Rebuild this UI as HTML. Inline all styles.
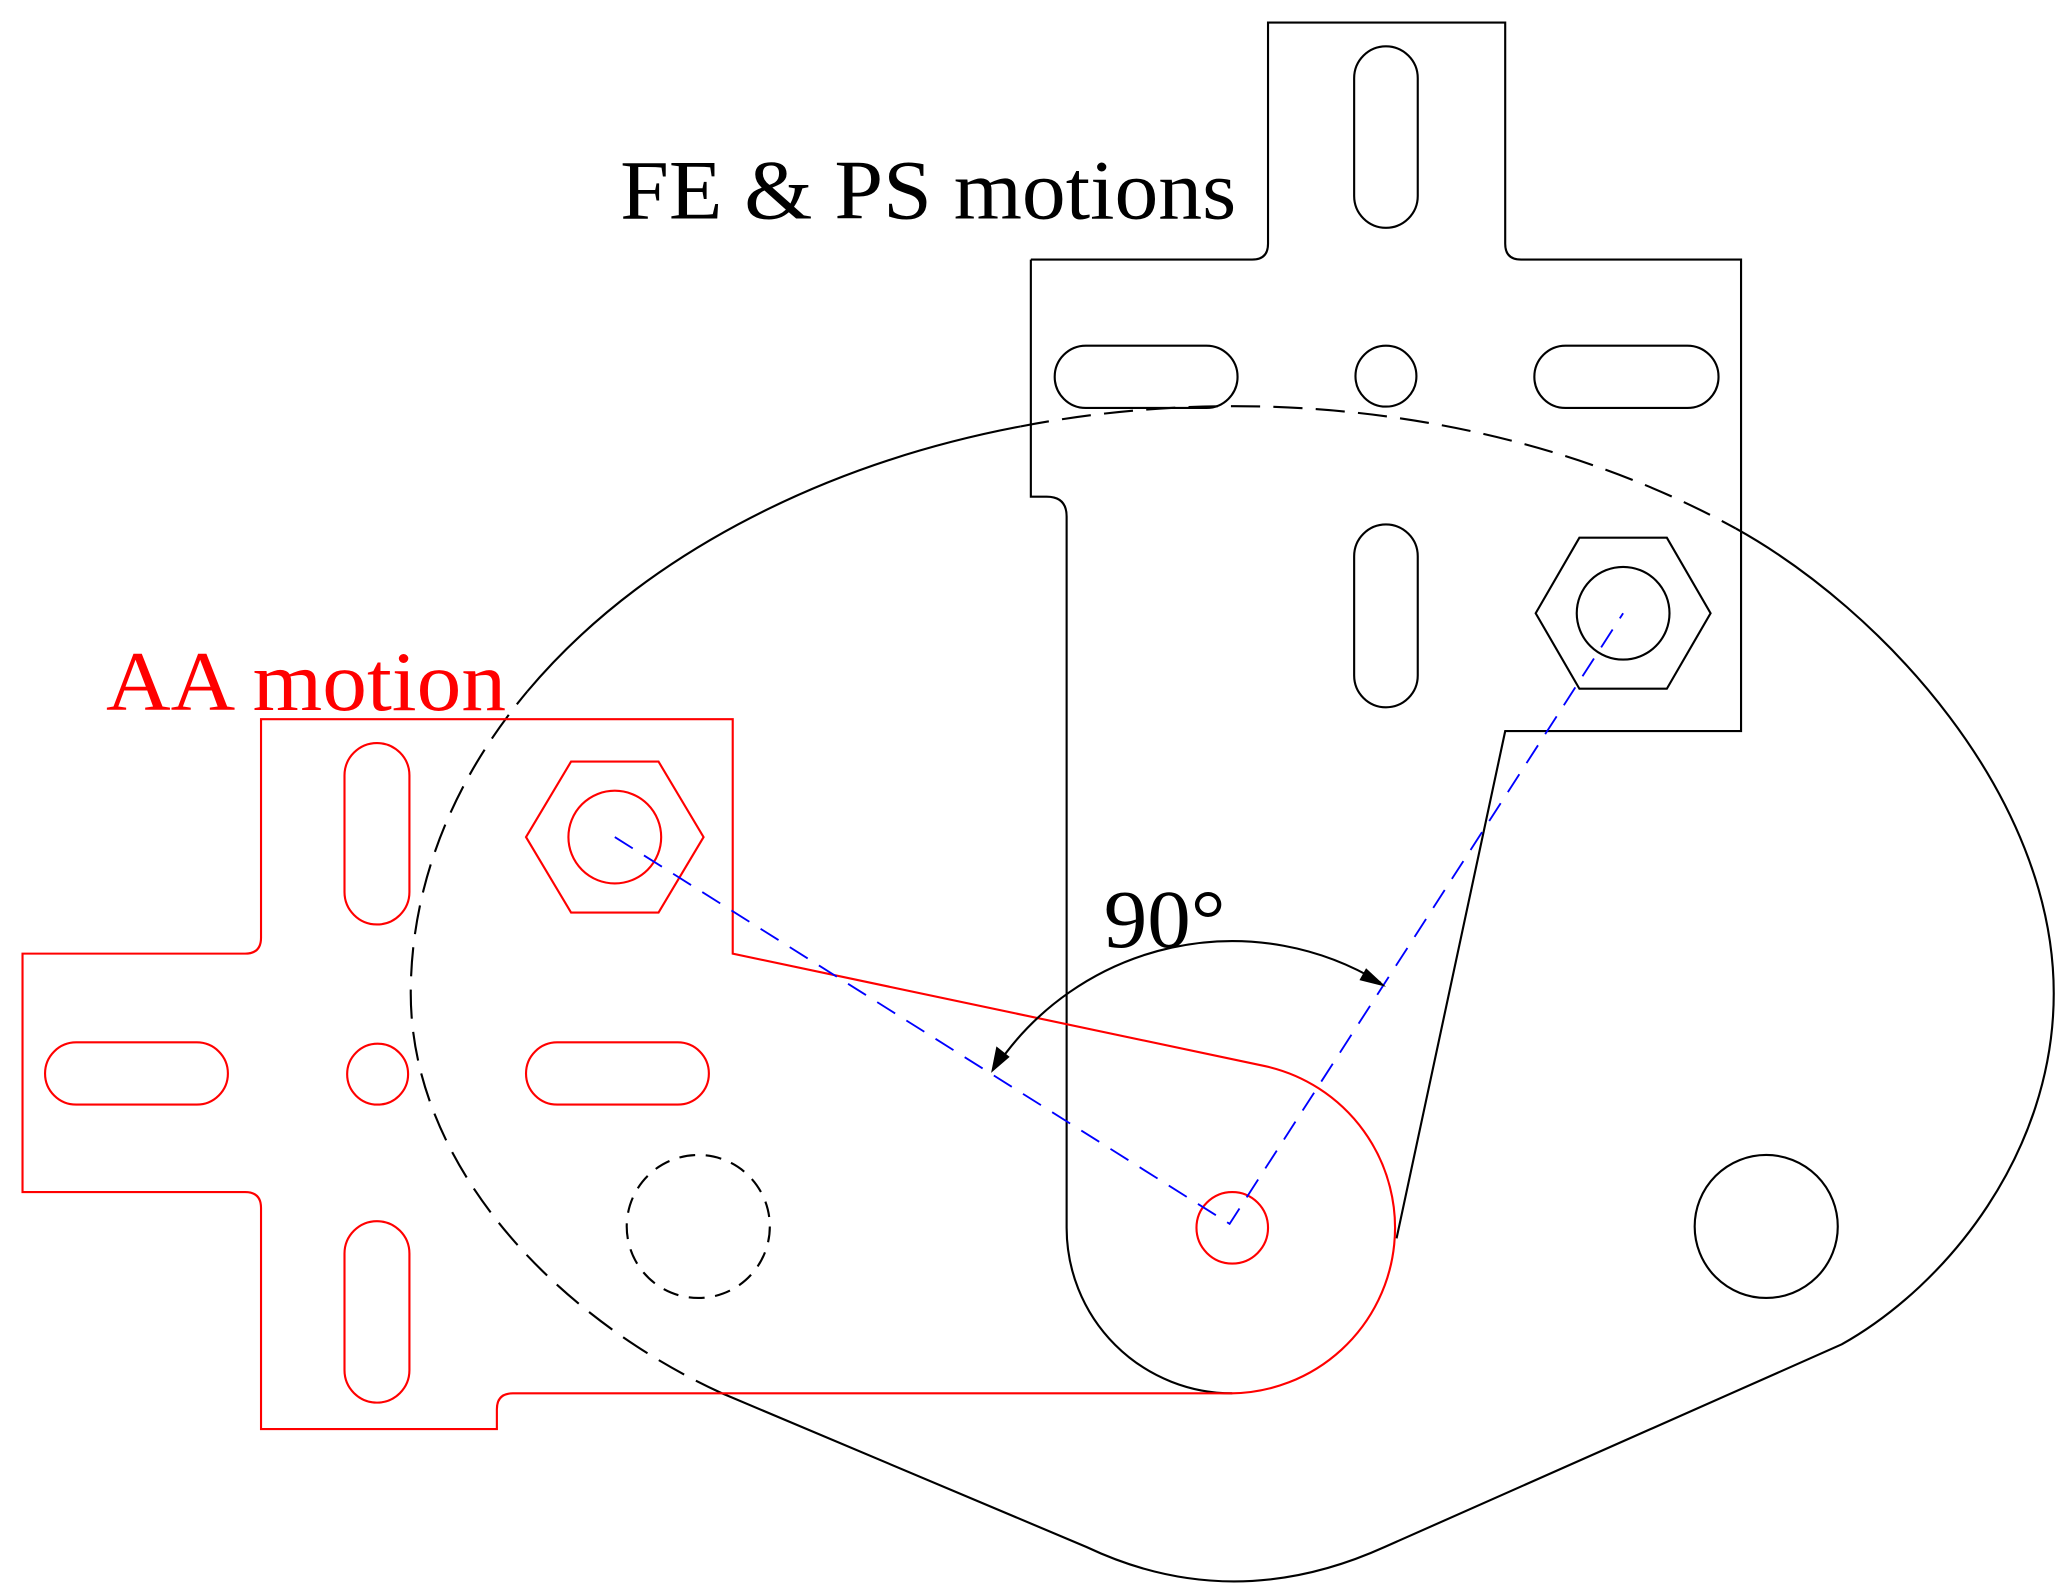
<!DOCTYPE html>
<html><head><meta charset="utf-8"><style>html,body{margin:0;padding:0;background:#fff}svg{display:block}</style></head>
<body>
<svg width="2067" height="1596" viewBox="0 0 1560 1205" preserveAspectRatio="none" xmlns="http://www.w3.org/2000/svg">
<g fill="none" stroke="#000" stroke-width="1.6">
<path d="M398,522 A620,444 0 0 1 770,322"/>
<path d="M770,322 A620,444 0 0 1 1310,399" stroke-dasharray="22,10"/>
<path d="M1310,399 C1420,460 1550,600 1550,750 C1550,870 1470,970 1390,1015 L1045,1168 Q930,1220 820,1168 L545,1052"/>
<path d="M545,1052 C420,995 310,880 310,750 A620,444 0 0 1 398,522" stroke-dasharray="22,10"/>
<path d="M778,196 L945,196 Q957,196 957,184 L957,17 L1136,17 L1136,184 Q1136,196 1148,196 L1314,196 L1314,552 L1136,552 L1054,935"/>
<path d="M930,1052 A125,125 0 0 1 805,927 L805,390 Q805,375 790,375 L778,375 L778,196"/>
<rect x="1022" y="35" width="48" height="137" rx="24"/>
<rect x="1022" y="396" width="48" height="138" rx="24"/>
<rect x="796" y="261" width="138" height="47" rx="23.5"/>
<rect x="1158" y="261" width="139" height="47" rx="23.5"/>
<circle cx="1046" cy="284" r="23"/>
<polygon points="1159,463 1192,406 1258,406 1291,463 1258,520 1192,520"/>
<circle cx="1225" cy="463" r="35"/>
<circle cx="1333" cy="926" r="54"/>
<circle cx="527" cy="926" r="54" stroke-dasharray="12,8"/>
</g>
<g fill="none" stroke="#f00" stroke-width="1.6">
<path d="M197,543 L553,543 L553,720 L955,805 A125,125 0 0 1 930,1052 L387,1052 Q375,1052 375,1064 L375,1079 L197,1079 L197,912 Q197,900 185,900 L17,900 L17,720 L185,720 Q197,720 197,708 Z"/>
<rect x="260" y="561" width="49" height="137" rx="24.5"/>
<rect x="260" y="922" width="49" height="137" rx="24.5"/>
<rect x="34" y="787" width="138" height="47" rx="23.5"/>
<rect x="397" y="787" width="138" height="47" rx="23.5"/>
<circle cx="285" cy="811" r="23"/>
<polygon points="397,632 431,575 497,575 531,632 497,689 431,689"/>
<circle cx="464" cy="632" r="35"/>
<circle cx="930" cy="927" r="27"/>
</g>
<path d="M464,632 L928,924 L1225,463" fill="none" stroke="#00f" stroke-width="1.4" stroke-dasharray="16,10"/>
<path d="M752,805 A215,215 0 0 1 1042,742" fill="none" stroke="#000" stroke-width="1.6"/>
<polygon points="748,810 752,790 762,798" fill="#000"/>
<polygon points="1046,745 1026,740 1031,731" fill="#000"/>
<text x="833" y="715" font-family="Liberation Serif, serif" font-size="62" fill="#000" textLength="92" lengthAdjust="spacingAndGlyphs">90°</text>
<text x="468" y="165" font-family="Liberation Serif, serif" font-size="64" fill="#000" textLength="465" lengthAdjust="spacingAndGlyphs">FE &amp; PS motions</text>
<text x="80" y="536" font-family="Liberation Serif, serif" font-size="64" fill="#f00" textLength="302" lengthAdjust="spacingAndGlyphs">AA motion</text>
</svg>
</body></html>
